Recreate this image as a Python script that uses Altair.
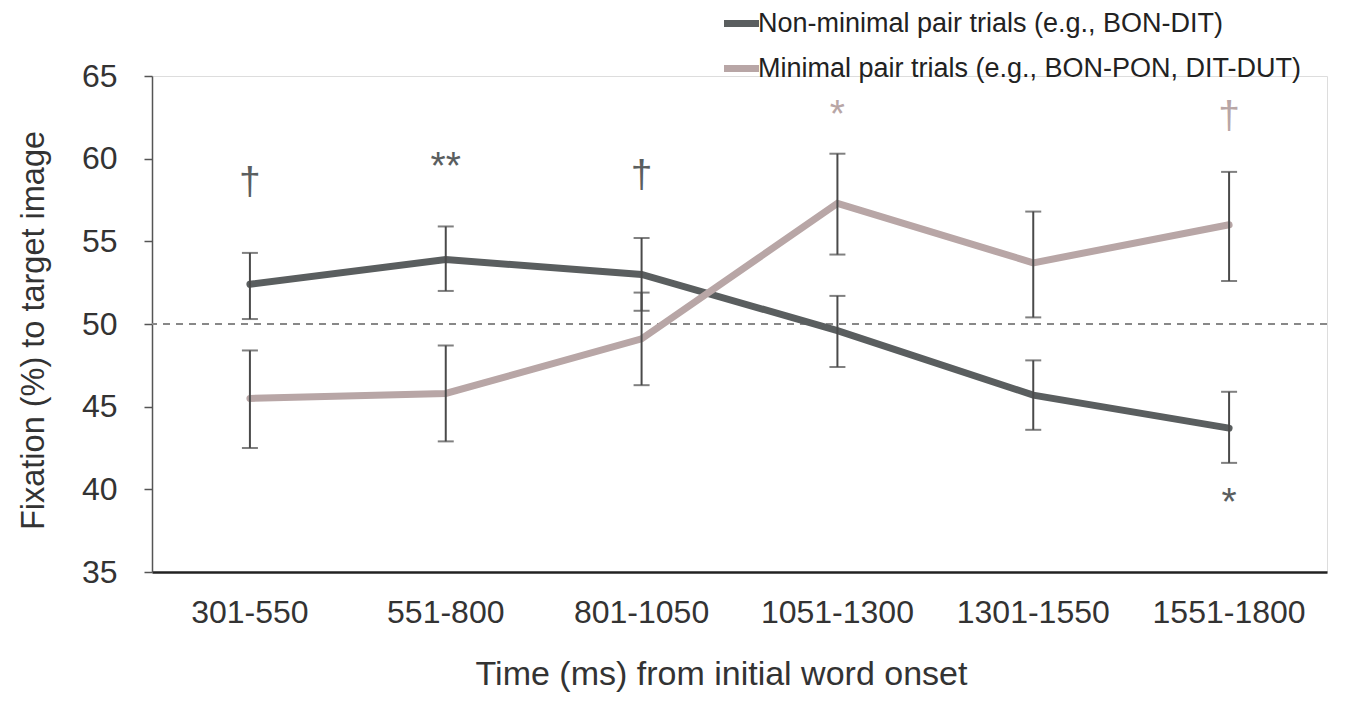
import altair as alt
import pandas as pd

categories = ["301-550", "551-800", "801-1050", "1051-1300", "1301-1550", "1551-1800"]
series_names = ["Non-minimal pair trials (e.g., BON-DIT)", "Minimal pair trials (e.g., BON-PON, DIT-DUT)"]

nonmin_mean = [52.4, 53.9, 53.0, 49.6, 45.7, 43.7]
nonmin_lo = [50.3, 52.0, 50.8, 47.4, 43.6, 41.6]
nonmin_hi = [54.3, 55.9, 55.2, 51.7, 47.8, 45.9]

min_mean = [45.5, 45.8, 49.1, 57.3, 53.7, 56.0]
min_lo = [42.5, 42.9, 46.3, 54.2, 50.4, 52.6]
min_hi = [48.4, 48.7, 51.9, 60.3, 56.8, 59.2]

ann_cat = ["301-550", "551-800", "801-1050", "1051-1300", "1551-1800", "1551-1800"]
ann_text = ["†", "**", "†", "*", "†", "*"]
ann_y = [58.6, 59.5, 59.0, 62.65, 62.6, 39.2]
ann_series = [series_names[0], series_names[0], series_names[0], series_names[1], series_names[1], series_names[0]]

DARK = "#5a5e5f"
LIGHT = "#b8a6a6"
FONT = "Liberation Sans"

rows = []
for i, c in enumerate(categories):
    rows.append({"cat": c, "series": series_names[0], "mean": nonmin_mean[i], "lo": nonmin_lo[i], "hi": nonmin_hi[i]})
    rows.append({"cat": c, "series": series_names[1], "mean": min_mean[i], "lo": min_lo[i], "hi": min_hi[i]})
df = pd.DataFrame(rows)
ann = pd.DataFrame({"cat": ann_cat, "text": ann_text, "y": ann_y, "series": ann_series})

xenc = alt.X("cat:N", sort=categories, scale=alt.Scale(domain=categories, paddingInner=0, paddingOuter=0),
             axis=alt.Axis(title="Time (ms) from initial word onset", labelAngle=0, ticks=False,
                           labelFontSize=32, labelFont=FONT, labelColor="#333333", labelPadding=25,
                           titleFontSize=34, titleFont=FONT, titleFontWeight="normal", titleColor="#333333",
                           titlePadding=29, titleX=569, domainColor="#222222", domainWidth=2.5))
yscale = alt.Scale(domain=[35, 65], nice=False, zero=False)
yaxis = alt.Axis(title="Fixation (%) to target image", values=[35, 40, 45, 50, 55, 60, 65],
                 grid=False, tickSize=8, tickColor="#555555", tickWidth=1.5,
                 domainColor="#555555", domainWidth=1.5,
                 labelFontSize=32, labelFont=FONT, labelColor="#333333", labelPadding=27,
                 titleFontSize=32.5, titleFont=FONT, titleFontWeight="normal", titleColor="#333333",
                 titlePadding=31, titleY=254)
color = alt.Color("series:N", scale=alt.Scale(domain=series_names, range=[DARK, LIGHT]),
                  legend=alt.Legend(title=None, orient="none", legendX=576, legendY=-66,
                                    symbolType="M-1.75,0H1.75", symbolStrokeWidth=7, symbolSize=400,
                                    labelFontSize=27, labelFont=FONT, labelColor="#222222",
                                    labelOffset=3, rowPadding=16, labelLimit=900))

base = alt.Chart(df)

ref = alt.Chart(pd.DataFrame({"y": [50]})).mark_rule(color="#888888", strokeDash=[7, 6], strokeWidth=2).encode(
    y=alt.Y("y:Q", scale=yscale, axis=yaxis))

lines = base.mark_line(strokeWidth=7, strokeCap="round").encode(
    x=xenc, y=alt.Y("mean:Q", scale=yscale, axis=yaxis), color=color)

err = base.mark_rule(color="#4a4a4a", strokeWidth=2).encode(
    x=xenc, y=alt.Y("lo:Q", scale=yscale), y2="hi:Q")
cap_lo = base.mark_tick(color="#4a4a4a", thickness=2, size=16, orient="horizontal").encode(
    x=xenc, y=alt.Y("lo:Q", scale=yscale))
cap_hi = base.mark_tick(color="#4a4a4a", thickness=2, size=16, orient="horizontal").encode(
    x=xenc, y=alt.Y("hi:Q", scale=yscale))

texts = alt.Chart(ann).mark_text(fontSize=39, font=FONT, baseline="middle", align="center").encode(
    x=xenc, y=alt.Y("y:Q", scale=yscale), text="text:N",
    color=alt.Color("series:N", scale=alt.Scale(domain=series_names, range=[DARK, LIGHT]), legend=None))

chart = alt.layer(ref, lines, err, cap_lo, cap_hi, texts).properties(
    width=1175, height=496,
    autosize=alt.AutoSizeParams(type="none"),
    padding={"left": 144, "top": 68, "right": 15, "bottom": 122},
).configure_view(stroke=None).configure(background="white")

chart.save("out.html", embed_options={"renderer": "svg", "actions": False})
